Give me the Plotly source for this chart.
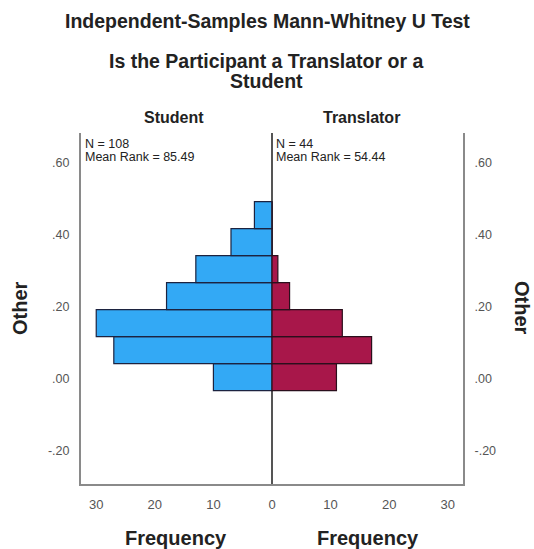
import plotly.graph_objects as go

# Histogram bins (value of "Other") and counts per group
bin_centers = [0.004, 0.079, 0.154, 0.229, 0.304, 0.379, 0.454]
bin_width = 0.075
student_counts = [10, 27, 30, 18, 13, 7, 3]
translator_counts = [11, 17, 12, 3, 1, 0, 0]

y_ticks = [-0.2, 0.0, 0.2, 0.4, 0.6]
y_ticklabels = ["-.20", ".00", ".20", ".40", ".60"]
x_ticks = [-30, -20, -10, 0, 10, 20, 30]
x_ticklabels = ["30", "20", "10", "0", "10", "20", "30"]

FONT = "Liberation Sans, Arial, sans-serif"
W, H = 534, 549
L, R, T, B = 81, 463, 133, 484


def px(x):
    return (x - L) / (R - L)


def py(y):
    return (B - y) / (B - T)


fig = go.Figure()

fig.add_trace(go.Bar(
    y=bin_centers,
    x=[-c for c in student_counts],
    orientation="h",
    width=bin_width,
    marker=dict(color="#33a9f5", line=dict(color="#1c2340", width=1.2)),
    showlegend=False,
    name="Student",
))
fig.add_trace(go.Bar(
    y=bin_centers,
    x=translator_counts,
    orientation="h",
    width=bin_width,
    marker=dict(color="#a8174a", line=dict(color="#2a0f1c", width=1.2)),
    showlegend=False,
    name="Translator",
))
# dummy trace so the right-hand axis gets drawn
fig.add_trace(go.Scatter(x=[None], y=[None], yaxis="y2", showlegend=False, hoverinfo="skip"))

texts = [
    ("Independent-Samples Mann-Whitney U Test", 267, 21, 19.5, True, "center"),
    ("Is the Participant a Translator or a", 266, 61, 19.5, True, "center"),
    ("Student", 266, 81, 19.5, True, "center"),
    ("Student", 174, 117, 16, True, "center"),
    ("Translator", 361, 117, 16, True, "center"),
    ("Frequency", 176, 538, 20, True, "center"),
    ("Frequency", 368, 538, 20, True, "center"),
]
annotations = []
for txt, x, y, size, bold, align in texts:
    annotations.append(dict(
        text="<b>%s</b>" % txt if bold else txt,
        x=px(x), y=py(y), xref="paper", yref="paper",
        xanchor=align, yanchor="middle", showarrow=False,
        font=dict(family=FONT, size=size, color="#222222"),
    ))

# N / mean rank labels
for lines, x in [(["N = 108", "Mean Rank = 85.49"], 83), (["N = 44", "Mean Rank = 54.44"], 274)]:
    for i, line in enumerate(lines):
        annotations.append(dict(
            text=line, x=px(x), y=py(144 + i * 13), xref="paper", yref="paper",
            xanchor="left", yanchor="middle", showarrow=False,
            font=dict(family=FONT, size=12.5, color="#222222"),
        ))

# rotated "Other" axis titles
annotations.append(dict(text="<b>Other</b>", x=px(20), y=py(308), xref="paper", yref="paper",
                        textangle=-90, showarrow=False, xanchor="center", yanchor="middle",
                        font=dict(family=FONT, size=20, color="#222222")))
annotations.append(dict(text="<b>Other</b>", x=px(522), y=py(308), xref="paper", yref="paper",
                        textangle=90, showarrow=False, xanchor="center", yanchor="middle",
                        font=dict(family=FONT, size=20, color="#222222")))

fig.update_layout(
    width=W, height=H,
    margin=dict(l=L, r=W - R, t=T, b=H - B, pad=0),
    paper_bgcolor="white",
    plot_bgcolor="white",
    barmode="overlay",
    annotations=annotations,
    xaxis=dict(
        range=[-32.6, 32.6],
        tickvals=x_ticks, ticktext=x_ticklabels,
        showgrid=False,
        zeroline=True, zerolinecolor="#555555", zerolinewidth=1.5,
        showline=True, linecolor="#8a8a8a", linewidth=2,
        ticks="outside", ticklen=7, tickcolor="rgba(0,0,0,0)",
        tickfont=dict(family=FONT, size=13, color="#555555"),
        fixedrange=True,
    ),
    yaxis=dict(
        range=[-0.293, 0.682],
        tickvals=y_ticks, ticktext=y_ticklabels,
        showgrid=False, zeroline=False,
        showline=True, linecolor="#8a8a8a", linewidth=2,
        ticks="outside", ticklen=7, tickcolor="rgba(0,0,0,0)",
        tickfont=dict(family=FONT, size=12.5, color="#555555"),
        fixedrange=True,
    ),
    yaxis2=dict(
        overlaying="y", side="right", matches="y",
        tickvals=y_ticks, ticktext=y_ticklabels,
        showgrid=False, zeroline=False,
        showline=True, linecolor="#8a8a8a", linewidth=2,
        ticks="outside", ticklen=7, tickcolor="rgba(0,0,0,0)",
        tickfont=dict(family=FONT, size=12.5, color="#555555"),
        fixedrange=True,
    ),
)

# drop the default page margin so the figure sits at the window's corner
fig.write_html("out.html", config={"displayModeBar": False},
               post_script="document.body.style.margin='0';")
